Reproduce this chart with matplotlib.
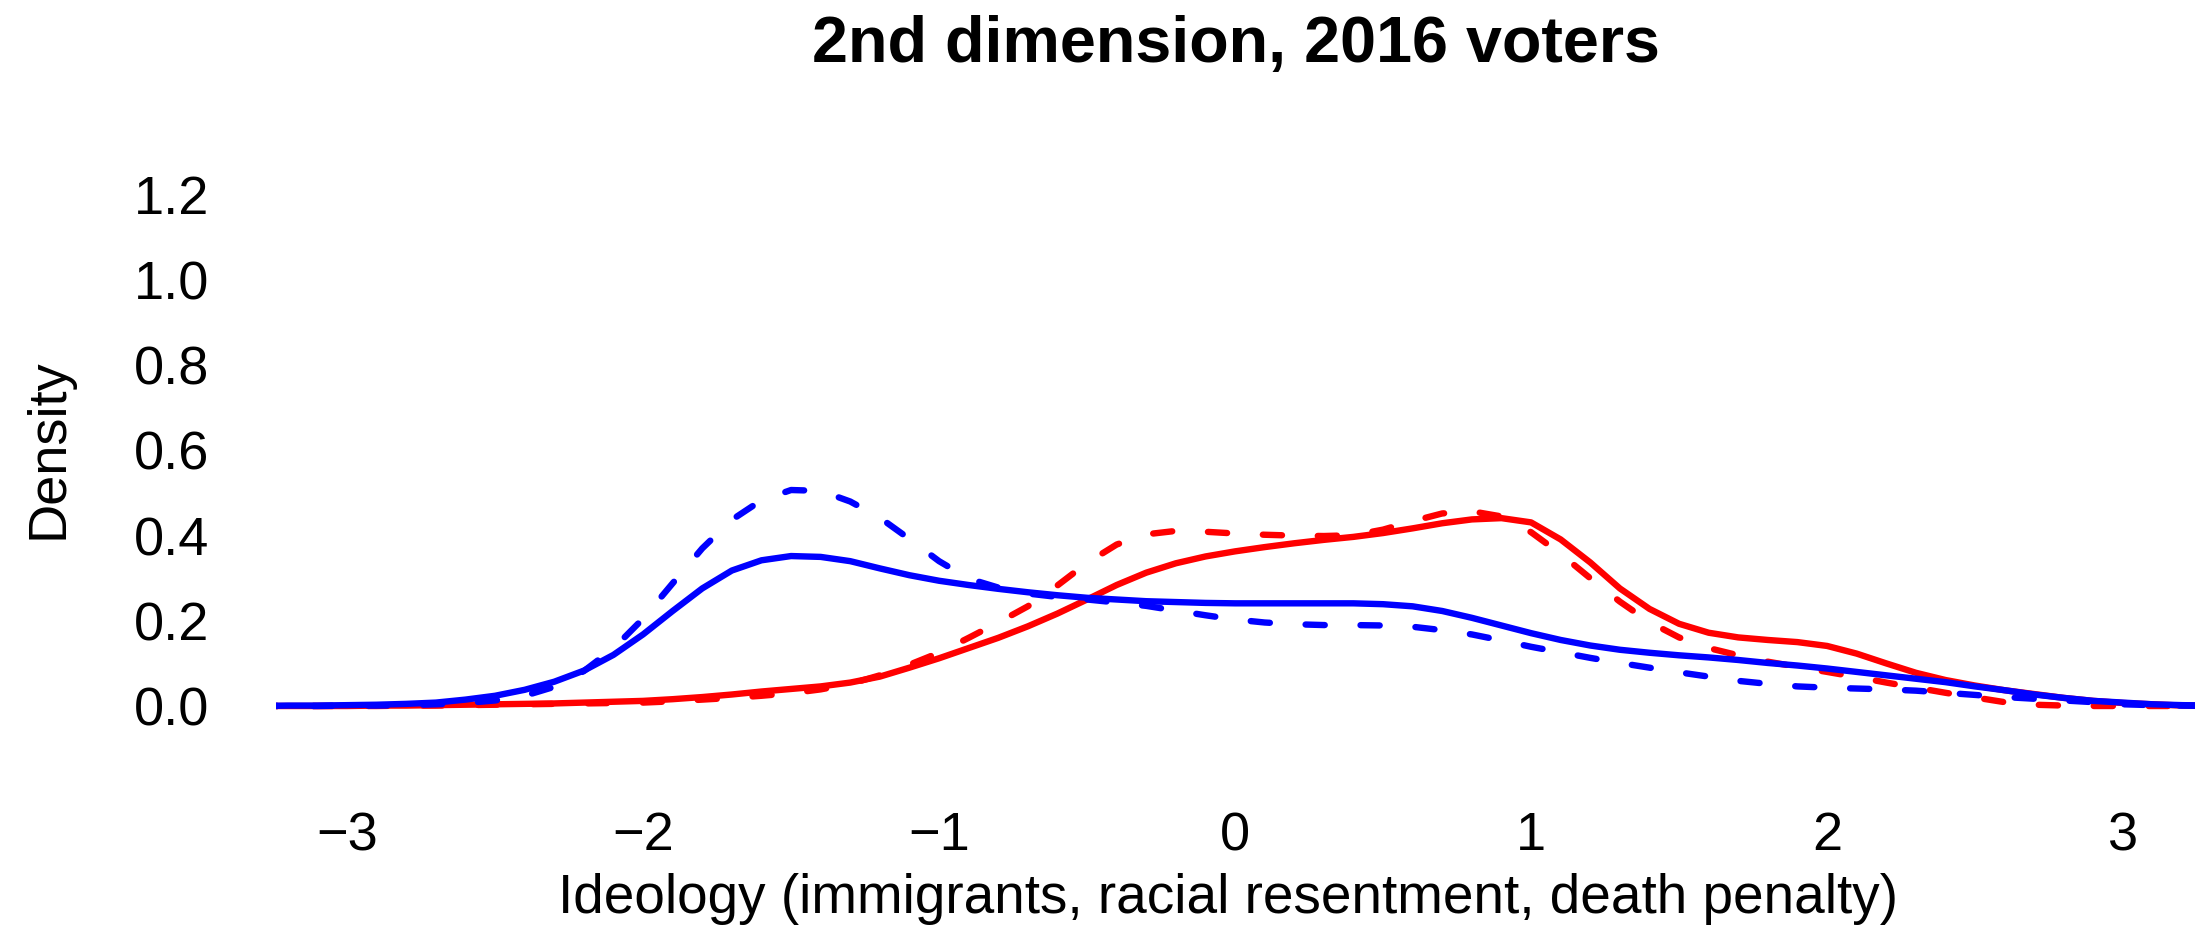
"""Density of 2nd ideology dimension, 2016 voters."""
import matplotlib
matplotlib.use('Agg')
import matplotlib.pyplot as plt
import numpy as np

plt.rcParams['font.family'] = ['Liberation Sans', 'DejaVu Sans']

# sample points along the ideology scale
x = np.round(np.linspace(-3.3, 3.3, 67), 1)

blue_solid = [
    0.000, 0.001, 0.001, 0.002, 0.003, 0.005, 0.008, 0.015, 0.024, 0.038,
    0.057, 0.083, 0.120, 0.168, 0.223, 0.276, 0.318, 0.342, 0.352, 0.350,
    0.340, 0.323, 0.307, 0.294, 0.284, 0.275, 0.267, 0.260, 0.254, 0.250,
    0.246, 0.244, 0.242, 0.241, 0.241, 0.241, 0.241, 0.241, 0.239, 0.234,
    0.223, 0.207, 0.189, 0.171, 0.155, 0.142, 0.132, 0.125, 0.119, 0.114,
    0.108, 0.101, 0.095, 0.088, 0.080, 0.072, 0.064, 0.056, 0.046, 0.037,
    0.027, 0.019, 0.012, 0.008, 0.004, 0.002, 0.001,
]
blue_dashed = [
    0.000, 0.000, 0.000, 0.001, 0.001, 0.002, 0.004, 0.007, 0.013, 0.024,
    0.045, 0.082, 0.135, 0.205, 0.288, 0.370, 0.437, 0.483, 0.507, 0.505,
    0.480, 0.442, 0.392, 0.340, 0.299, 0.278, 0.264, 0.256, 0.250, 0.243,
    0.235, 0.224, 0.213, 0.203, 0.196, 0.192, 0.190, 0.190, 0.189, 0.186,
    0.178, 0.168, 0.154, 0.139, 0.126, 0.113, 0.101, 0.090, 0.079, 0.069,
    0.059, 0.052, 0.046, 0.043, 0.041, 0.039, 0.036, 0.031, 0.026, 0.021,
    0.017, 0.013, 0.009, 0.004, 0.002, 0.001, 0.000,
]
red_solid = [
    0.000, 0.000, 0.000, 0.000, 0.001, 0.001, 0.002, 0.003, 0.004, 0.005,
    0.006, 0.008, 0.010, 0.012, 0.016, 0.021, 0.027, 0.034, 0.040, 0.046,
    0.055, 0.069, 0.090, 0.112, 0.136, 0.160, 0.187, 0.217, 0.250, 0.284,
    0.313, 0.335, 0.351, 0.363, 0.373, 0.382, 0.390, 0.397, 0.406, 0.417,
    0.429, 0.438, 0.441, 0.431, 0.391, 0.337, 0.276, 0.228, 0.193, 0.172,
    0.161, 0.155, 0.150, 0.141, 0.123, 0.100, 0.078, 0.061, 0.048, 0.037,
    0.028, 0.019, 0.012, 0.007, 0.004, 0.001, 0.000,
]
red_dashed = [
    0.000, 0.000, 0.000, 0.000, 0.000, 0.001, 0.001, 0.002, 0.003, 0.004,
    0.005, 0.006, 0.007, 0.008, 0.011, 0.015, 0.019, 0.024, 0.030, 0.039,
    0.052, 0.072, 0.097, 0.125, 0.160, 0.196, 0.234, 0.283, 0.336, 0.379,
    0.403, 0.411, 0.409, 0.405, 0.402, 0.400, 0.399, 0.401, 0.414, 0.434,
    0.452, 0.457, 0.445, 0.408, 0.357, 0.300, 0.245, 0.197, 0.161, 0.136,
    0.119, 0.104, 0.092, 0.080, 0.068, 0.055, 0.043, 0.031, 0.020, 0.009,
    0.003, 0.001, 0.000, 0.000, 0.000, 0.000, 0.000,
]

x_ticks = [-3, -2, -1, 0, 1, 2, 3]
y_ticks = [0.0, 0.2, 0.4, 0.6, 0.8, 1.0, 1.2]

W, H = 2195, 925
fig = plt.figure(figsize=(W / 100, H / 100), dpi=100)

# plot region in pixels
left_px, right_px = 276, 2195
ylim = (-0.13, 1.30)
zero_px, unit_px = 706, 426
bottom_px = zero_px - ylim[0] * unit_px
top_px = zero_px - ylim[1] * unit_px
ax = fig.add_axes([left_px / W, 1 - bottom_px / H,
                   (right_px - left_px) / W, (bottom_px - top_px) / H])

lw = 4.6
dash = (3.0, 5.6)
ax.plot(x, red_solid, color='#ff0000', lw=lw, solid_capstyle='round',
        solid_joinstyle='round')
ax.plot(x, red_dashed, color='#ff0000', lw=lw, dashes=dash,
        dash_capstyle='round', dash_joinstyle='round')
ax.plot(x, blue_solid, color='#0000ff', lw=lw, solid_capstyle='round',
        solid_joinstyle='round')
ax.plot(x, blue_dashed, color='#0000ff', lw=lw, dashes=dash,
        dash_capstyle='round', dash_joinstyle='round')

ax.set_xlim(-3.24, 3.243)
ax.set_ylim(*ylim)
ax.set_xticks(x_ticks)
ax.set_yticks(y_ticks)
ax.set_yticklabels(['%.1f' % v for v in y_ticks])
ax.tick_params(axis='x', length=0, labelsize=39, pad=36)
ax.tick_params(axis='y', length=0, labelsize=39, pad=48)
for s in ax.spines.values():
    s.set_visible(False)

fig.text(1235.5 / W, 1 - 62 / H, '2nd dimension, 2016 voters',
         ha='center', va='baseline', fontsize=46.5, fontweight='bold')
fig.text(1228 / W, 1 - 913 / H,
         'Ideology (immigrants, racial resentment, death penalty)',
         ha='center', va='baseline', fontsize=39.5)
fig.text(48 / W, 1 - 449 / H, 'Density', rotation=90,
         ha='center', va='center', fontsize=39)

fig.savefig('out.png', dpi=100)
